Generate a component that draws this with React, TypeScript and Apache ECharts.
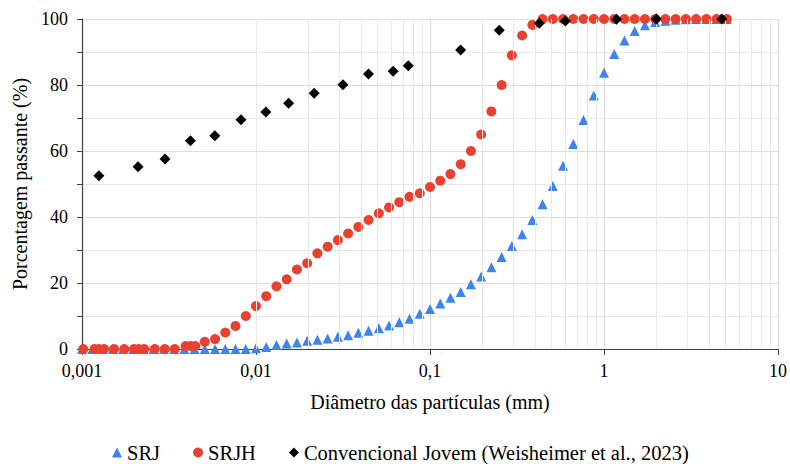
import React, { useEffect, useRef } from "react";
import * as echarts from "echarts";

// Particle diameters (mm) of the laser-diffraction grid (SRJ)
const srjX = [
  0.001, 0.001145, 0.001311, 0.001501, 0.001719, 0.001968, 0.002254, 0.002581, 0.002955, 0.003384,
  0.003875, 0.004437, 0.00508, 0.005817, 0.006661, 0.007627, 0.008733, 0.01, 0.01145, 0.01311,
  0.01501, 0.01719, 0.01968, 0.02254, 0.02581, 0.02955, 0.03384, 0.03875, 0.04437, 0.0508,
  0.05817, 0.06661, 0.07627, 0.08733, 0.1, 0.1145, 0.1311, 0.1501, 0.1719, 0.1968,
  0.2254, 0.2581, 0.2955, 0.3384, 0.3875, 0.4437, 0.508, 0.5817, 0.6661, 0.7627,
  0.8733, 1.0, 1.145, 1.311, 1.501, 1.719, 1.968, 2.254, 2.581, 2.955,
  3.384, 3.875, 4.437, 5.08,
];
const srjY = [
  0, 0, 0, 0, 0, 0, 0, 0, 0, 0,
  0, 0, 0, 0, 0, 0, 0, 0.2, 0.6, 1.2,
  1.7, 2.0, 2.5, 2.8, 3.2, 3.7, 4.2, 4.9, 5.5, 6.3,
  7.1, 8.1, 9.2, 10.7, 12.1, 13.8, 15.5, 17.3, 19.6, 22,
  24.8, 27.9, 31.2, 34.8, 39.1, 43.9, 49.4, 55.5, 62.1, 69.4,
  76.8, 83.7, 89.4, 93.5, 96.4, 98.1, 99.1, 99.5, 99.8, 99.9,
  100, 100, 100, 100,
];

const srjhX = [
  0.001017, 0.00118, 0.00125, 0.00134, 0.00153, 0.00175, 0.00199, 0.00212, 0.00228, 0.00262,
  0.00299, 0.00341, 0.00394, 0.00421, 0.00448, 0.00508, 0.005817, 0.006661, 0.007627, 0.008733,
  0.01, 0.01145, 0.01311, 0.01501, 0.01719, 0.01968, 0.02254, 0.02581, 0.02955, 0.03384,
  0.03875, 0.04437, 0.0508, 0.05817, 0.06661, 0.07627, 0.08733, 0.1, 0.1145, 0.1311,
  0.1501, 0.1719, 0.1968, 0.2254, 0.2581, 0.2955, 0.3384, 0.3875, 0.4437, 0.508,
  0.5817, 0.6661, 0.7627, 0.8733, 1.0, 1.145, 1.311, 1.501, 1.719, 1.968,
  2.254, 2.581, 2.955, 3.384, 3.875, 4.437, 5.08,
];
const srjhY = [
  0, 0, 0, 0, 0, 0, 0, 0, 0, 0,
  0, 0, 0.9, 0.9, 0.9, 2.2, 3, 5, 7, 10,
  13, 16, 19, 21.1, 24.1, 26, 29, 31, 33, 35,
  37, 39.1, 41.1, 42.9, 44.5, 46.1, 47.2, 49.1, 51, 53,
  56, 60, 65, 72, 80, 89, 95, 98.2, 100, 100,
  100, 100, 100, 100, 100, 100, 100, 100, 100, 100,
  100, 100, 100, 100, 100, 100, 100,
];

const convX = [
  0.00125, 0.0021, 0.003, 0.0042, 0.0058, 0.0082, 0.0114, 0.0154, 0.0216, 0.0316,
  0.0443, 0.0614, 0.075, 0.15, 0.25, 0.425, 0.6, 1.18, 2.0, 4.75,
];
const convY = [
  52.5, 55.2, 57.6, 63.1, 64.6, 69.5, 71.8, 74.5, 77.5, 80.1,
  83.3, 84.2, 85.8, 90.6, 96.6, 98.7, 99.4, 99.9, 100, 100,
];

const minorXTicks = [
  0.002, 0.003, 0.004, 0.005, 0.006, 0.007, 0.008, 0.009,
  0.02, 0.03, 0.04, 0.05, 0.06, 0.07, 0.08, 0.09,
  0.2, 0.3, 0.4, 0.5, 0.6, 0.7, 0.8, 0.9,
  2, 3, 4, 5, 6, 7, 8, 9,
];

const seriesNames = ["SRJ", "SRJH", "Convencional Jovem (Weisheimer et al., 2023)"];

const FONT = "Liberation Serif";

export default function App() {
  const ref = useRef<HTMLDivElement>(null);

  useEffect(() => {
    if (!ref.current) return;
    const chart = echarts.init(ref.current, null, { renderer: "svg" });
    const pairs = (xs: number[], ys: number[]) => xs.map((x, i) => [x, ys[i]]);

    chart.setOption({
      animation: false,
      backgroundColor: "#ffffff",
      textStyle: { fontFamily: FONT, color: "#000" },
      grid: { left: 82, right: 10, top: 19, bottom: 115, containLabel: false },
      legend: {
        data: [
          { name: seriesNames[0], icon: "triangle" },
          { name: seriesNames[1], icon: "circle" },
          { name: seriesNames[2], icon: "diamond" },
        ],
        left: 107,
        top: 437,
        itemWidth: 10,
        itemHeight: 10,
        itemGap: 33,
        textStyle: { fontFamily: FONT, fontSize: 20.5, color: "#000" },
      },
      xAxis: {
        type: "log",
        logBase: 10,
        min: 0.001,
        max: 10,
        name: "Diâmetro das partículas (mm)",
        nameLocation: "middle",
        nameGap: 43,
        nameTextStyle: { fontFamily: FONT, fontSize: 20, color: "#000" },
        axisLine: { show: true, lineStyle: { color: "#404040", width: 1.2 } },
        axisTick: { show: true, length: 6, lineStyle: { color: "#404040" } },
        axisLabel: {
          fontFamily: FONT,
          fontSize: 18,
          color: "#000",
          margin: 13,
          formatter: (v: number) => String(Number(v.toPrecision(3))).replace(".", ","),
        },
        splitLine: { show: true, lineStyle: { color: "#d9d9d9", width: 1 } },
      },
      yAxis: {
        type: "value",
        min: 0,
        max: 100,
        interval: 20,
        name: "Porcentagem passante (%)",
        nameLocation: "middle",
        nameGap: 50,
        nameTextStyle: { fontFamily: FONT, fontSize: 20, color: "#000" },
        axisLine: { show: true, lineStyle: { color: "#404040", width: 1.2 } },
        axisTick: { show: true, length: 5, lineStyle: { color: "#404040" } },
        minorTick: { show: true, splitNumber: 2, length: 5, lineStyle: { color: "#404040" } },
        axisLabel: { fontFamily: FONT, fontSize: 18, color: "#000", margin: 14 },
        splitLine: { show: true, lineStyle: { color: "#dedede", width: 1 } },
        minorSplitLine: { show: true, lineStyle: { color: "#e8e8e8", width: 1 } },
      },
      series: [
        {
          name: "minor-grid",
          type: "scatter",
          data: [],
          z: 1,
          silent: true,
          markLine: {
            silent: true,
            symbol: "none",
            label: { show: false },
            lineStyle: { color: "#e8e8e8", width: 1, type: "solid" },
            data: minorXTicks.map((v) => ({ xAxis: v })),
          },
        },
        {
          name: seriesNames[0],
          type: "scatter",
          symbol: "triangle",
          symbolSize: 10,
          itemStyle: { color: "#3f84ec", opacity: 1 },
          data: pairs(srjX, srjY),
          z: 3,
        },
        {
          name: seriesNames[1],
          type: "scatter",
          symbol: "circle",
          symbolSize: 10,
          itemStyle: { color: "#e8412f", opacity: 1 },
          data: pairs(srjhX, srjhY),
          z: 4,
        },
        {
          name: seriesNames[2],
          type: "scatter",
          symbol: "diamond",
          symbolSize: 11,
          itemStyle: { color: "#000000", opacity: 1 },
          data: pairs(convX, convY),
          z: 5,
        },
      ],
    });

    return () => chart.dispose();
  }, []);

  return (
    <div
      ref={ref}
      style={{ position: "fixed", left: 0, top: 0, width: 790, height: 464, background: "#fff" }}
    />
  );
}
